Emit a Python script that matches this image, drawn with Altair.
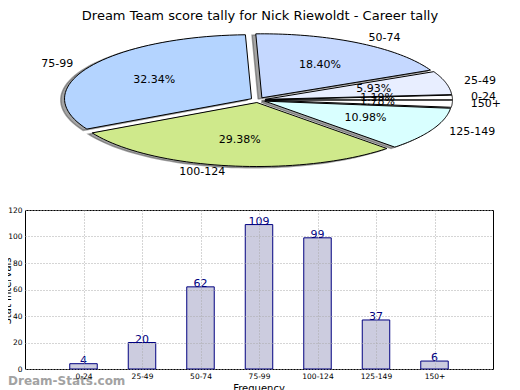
import altair as alt
import pandas as pd

# ---------------- data ----------------
categories = ["0-24", "25-49", "50-74", "75-99", "100-124", "125-149", "150+"]
counts = [4, 20, 62, 109, 99, 37, 6]
slice_colors = ["#ffffff", "#e8eeff", "#c5d8ff", "#b4d4ff", "#cfe98b", "#d9ffff", "#ffffff"]
y_ticks = [0, 20, 40, 60, 80, 100, 120]

title_text = "Dream Team score tally for Nick Riewoldt - Career tally"
x_title = "Frequency"
y_title = "Stat Intervals"
watermark = "Dream-Stats.com"

FONT = "DejaVu Sans"
EXPLODE = 0.04
N = 48

df = pd.DataFrame({"cat": categories, "value": counts, "idx": list(range(len(categories)))})
base = alt.Chart(df)

# pie scales (ellipse drawn through differing x / y pixel ranges)
pie_x = alt.Scale(domain=[-1, 1], range=[46, 420], nice=False, zero=False)
pie_y = alt.Scale(domain=[-1, 1], range=[-46, -174], nice=False, zero=False)

pie_base = (
    base.transform_joinaggregate(total="sum(value)")
    .transform_window(cum="sum(value)", sort=[alt.SortField("idx")], frame=[None, 0])
    .transform_calculate(a0="2*PI*(datum.cum-datum.value)/datum.total")
    .transform_calculate(a1="2*PI*datum.cum/datum.total")
    .transform_calculate(mid="(datum.a0+datum.a1)/2")
    .transform_calculate(pct="format(100*datum.value/datum.total, '.2f') + '%'")
)

poly = (
    pie_base.transform_calculate(steps=f"sequence(0,{N + 3})")
    .transform_flatten(["steps"], as_=["i"])
    .transform_calculate(t=f"datum.a0 + (datum.a1-datum.a0)*(datum.i-1)/{N}")
    .transform_calculate(edge=f"datum.i>0 && datum.i<={N + 1}")
    .transform_calculate(px=f"{EXPLODE}*cos(datum.mid) + (datum.edge ? cos(datum.t) : 0)")
    .transform_calculate(py=f"{EXPLODE}*sin(datum.mid) + (datum.edge ? sin(datum.t) : 0)")
)

shadow = (
    poly.transform_calculate(sx="datum.px-0.02", sy="datum.py-0.02")
    .mark_line(strokeWidth=1.5)
    .encode(
        x=alt.X("sx:Q", scale=pie_x, axis=None),
        y=alt.Y("sy:Q", scale=pie_y, axis=None),
        fill=alt.value("#4a4a4a"),
        fillOpacity=alt.value(0.5),
        stroke=alt.value("#4a4a4a"),
        strokeOpacity=alt.value(0.5),
        detail="cat:N",
        order="i:Q",
    )
)

slices = poly.mark_line(strokeWidth=1, strokeJoin="round").encode(
    x=alt.X("px:Q", scale=pie_x, axis=None),
    y=alt.Y("py:Q", scale=pie_y, axis=None),
    fill=alt.Fill("cat:N", scale=alt.Scale(domain=categories, range=slice_colors), legend=None),
    stroke=alt.value("black"),
    detail="cat:N",
    order="i:Q",
)

pct_labels = (
    pie_base.transform_calculate(lx=f"({0.6 + EXPLODE})*cos(datum.mid)")
    .transform_calculate(ly=f"({0.6 + EXPLODE})*sin(datum.mid)")
    .mark_text(font=FONT, fontSize=11, align="center", baseline="middle", color="black")
    .encode(
        x=alt.X("lx:Q", scale=pie_x, axis=None),
        y=alt.Y("ly:Q", scale=pie_y, axis=None),
        text="pct:N",
    )
)

cat_base = (
    pie_base.transform_calculate(lx=f"({1.1 + EXPLODE})*cos(datum.mid)")
    .transform_calculate(ly=f"({1.1 + EXPLODE})*sin(datum.mid)")
)
cat_right = cat_base.transform_filter("cos(datum.mid) >= 0").mark_text(
    font=FONT, fontSize=11, align="left", baseline="middle", color="black"
).encode(
    x=alt.X("lx:Q", scale=pie_x, axis=None),
    y=alt.Y("ly:Q", scale=pie_y, axis=None),
    text="cat:N",
)
cat_left = cat_base.transform_filter("cos(datum.mid) < 0").mark_text(
    font=FONT, fontSize=11, align="right", baseline="middle", color="black"
).encode(
    x=alt.X("lx:Q", scale=pie_x, axis=None),
    y=alt.Y("ly:Q", scale=pie_y, axis=None),
    text="cat:N",
)

# ---------------- bar chart ----------------
bx = alt.Scale(domain=[-1, len(categories)], nice=False, zero=False)
by = alt.Scale(domain=[0, 120], nice=False)
label_expr = "[" + ",".join(f"'{c}'" for c in categories) + "][datum.value]"

axis_common = dict(
    grid=True,
    gridDash=[1, 2],
    gridColor="#aaaaaa",
    ticks=False,
    domain=False,
    labelFont=FONT,
    labelFontSize=7.5,
    labelPadding=3,
    labelFlush=False,
    labelOverlap=False,
    labelColor="black",
    title=None,
    zindex=1,
)

bars = (
    base.transform_calculate(b0="datum.idx-0.235", b1="datum.idx+0.235")
    .mark_bar(fill="#ccccdf", stroke="#000080", strokeWidth=1)
    .encode(
        x=alt.X(
            "b0:Q",
            scale=bx,
            axis=alt.Axis(values=list(range(len(categories))), labelExpr=label_expr, **axis_common),
        ),
        x2="b1:Q",
        y=alt.Y("value:Q", scale=by, axis=alt.Axis(values=y_ticks, **axis_common)),
        y2=alt.datum(0),
    )
)

bar_text = base.mark_text(
    font=FONT, fontSize=11, color="#000080", align="center", baseline="bottom", dy=2
).encode(
    x=alt.X("idx:Q", scale=bx, axis=None),
    y=alt.Y("value:Q", scale=by, axis=None),
    text="value:Q",
)

# ---------------- texts ----------------
title = alt.Chart(pd.DataFrame({"t": [title_text]})).mark_text(
    font=FONT, fontSize=13, align="center", baseline="middle", color="black"
).encode(x=alt.value(235), y=alt.value(-194), text="t:N")

xt = alt.Chart(pd.DataFrame({"t": [x_title]})).mark_text(
    font=FONT, fontSize=10, align="center", baseline="middle", color="black"
).encode(x=alt.value(234), y=alt.value(179), text="t:N")

yt = alt.Chart(pd.DataFrame({"t": [y_title]})).mark_text(
    font=FONT, fontSize=10, align="center", baseline="middle", color="black", angle=270
).encode(x=alt.value(-17), y=alt.value(81), text="t:N")

wm = alt.Chart(pd.DataFrame({"t": [watermark]})).mark_text(
    font=FONT, fontSize=12, fontWeight="bold", align="left", baseline="middle", color="#999999", opacity=0.9
).encode(x=alt.value(-17), y=alt.value(171), text="t:N")

chart = (
    alt.layer(shadow, slices, pct_labels, cat_right, cat_left, bars, bar_text, title, xt, yt, wm)
    .resolve_scale(x="independent", y="independent", fill="independent")
    .properties(
        width=468,
        height=159,
        autosize=alt.AutoSizeParams(type="none"),
        padding={"left": 17, "top": 202, "right": 19, "bottom": 21},
    )
    .configure_view(stroke="black", strokeWidth=1)
)

chart.save("out.html", embed_options={"renderer": "svg", "actions": False})
